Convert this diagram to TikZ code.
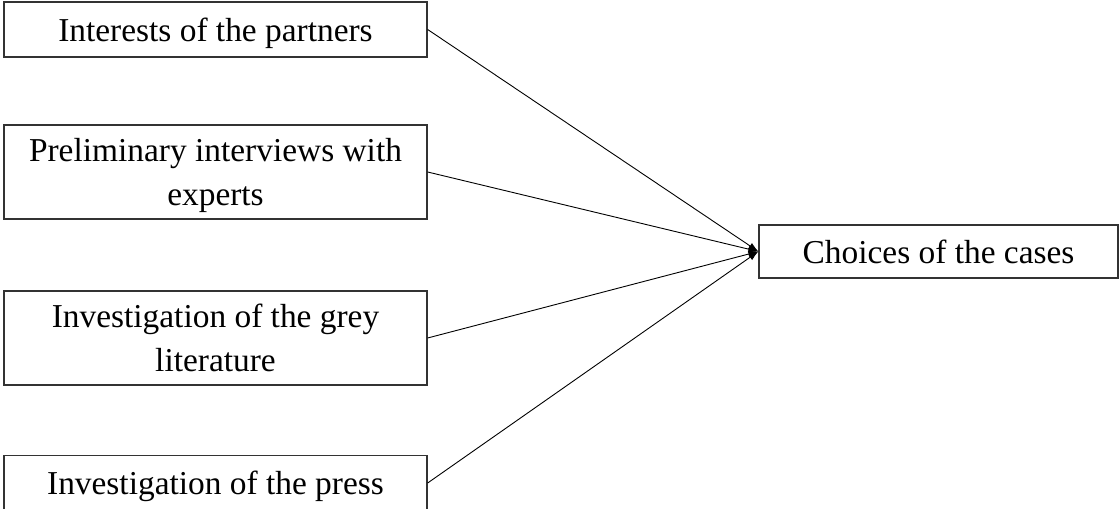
\documentclass[tikz,border=0pt]{standalone}
\usepackage{fontspec}
\setmainfont{Liberation Serif}
\usetikzlibrary{arrows.meta}
\begin{document}
\begin{tikzpicture}[x=1pt,y=1pt,
  box/.style={draw=black!80,line width=1.3pt,rectangle,inner sep=0pt,align=center,
    font=\fontsize{33.4}{44}\selectfont,minimum width=423pt,text depth=0pt},
  conn/.style={line width=0.9pt,-{Latex[length=10pt,width=7pt]}}]
\useasboundingbox (0,0) rectangle (1120,509);
\node[box,minimum height=55pt] (a) at (215.5,479.5) {Interests of the partners};
\node[box,minimum height=94pt] (b) at (215.5,337) {Preliminary interviews with\\experts};
\node[box,minimum height=94pt] (c) at (215.5,171) {Investigation of the grey\\literature};
\node[box,minimum height=55pt] (d) at (215.5,26) {Investigation of the press};
\node[box,minimum width=359pt,minimum height=53pt] (e) at (938.5,257.5) {Choices of the cases};
\draw[conn] (a.east) -- (e.west);
\draw[conn] (b.east) -- (e.west);
\draw[conn] (c.east) -- (e.west);
\draw[conn] (d.east) -- (e.west);
\end{tikzpicture}
\end{document}
